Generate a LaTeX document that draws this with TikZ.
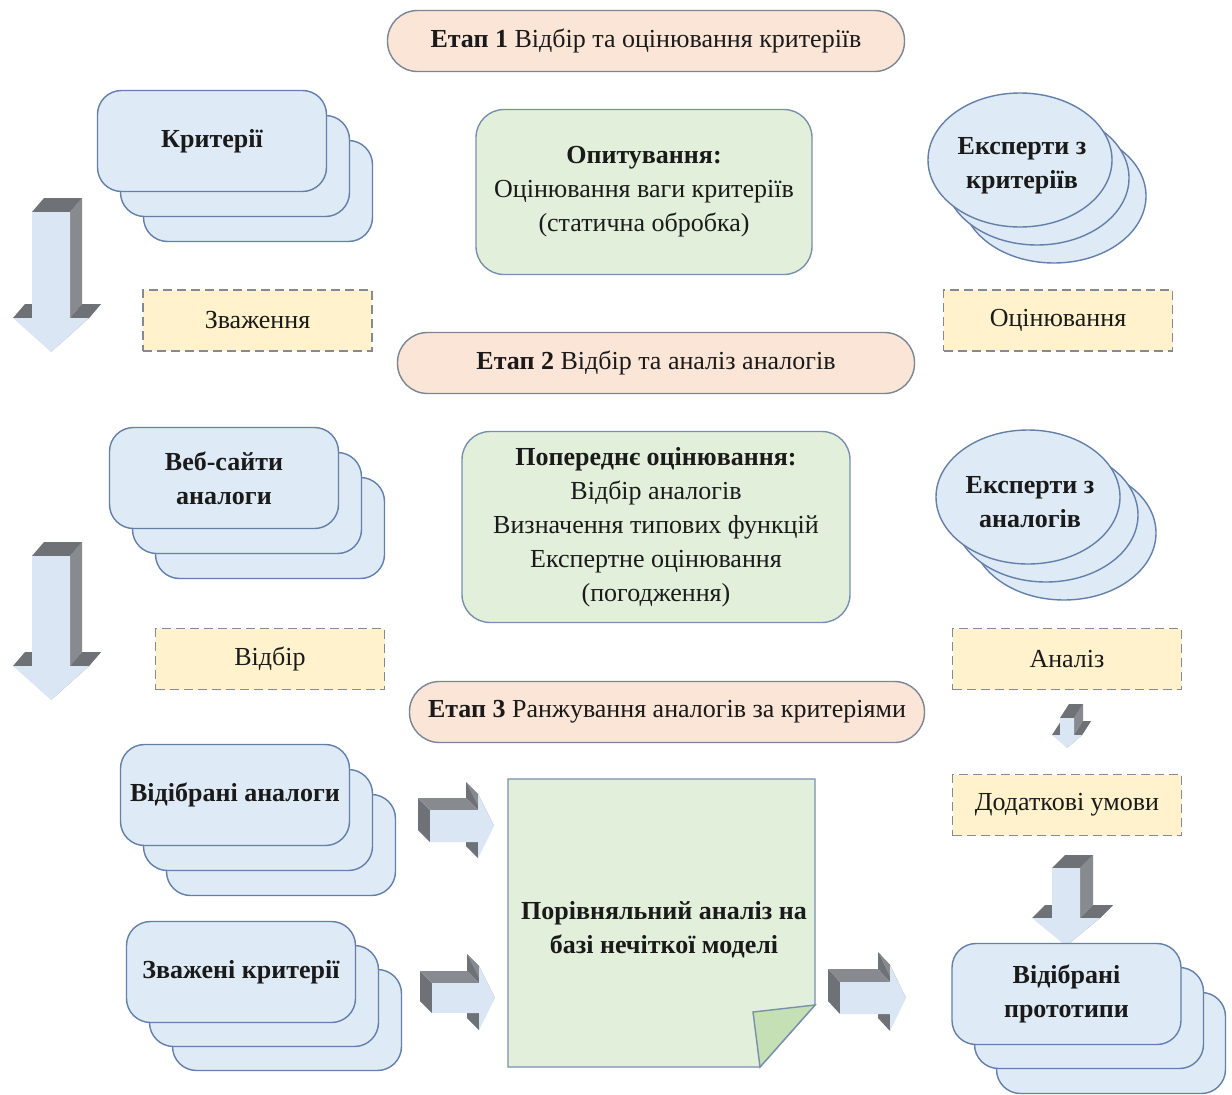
\documentclass[tikz,border=0pt]{standalone}
\usepackage{fontspec}
\setmainfont{Liberation Serif}
\usetikzlibrary{shapes.geometric}
\definecolor{peachfill}{HTML}{FBE5D6}
\definecolor{pillline}{HTML}{7A8696}
\definecolor{bluefill}{HTML}{DEEAF6}
\definecolor{blueline}{HTML}{6480AA}
\definecolor{greenfill}{HTML}{E2EFDA}
\definecolor{greenline}{HTML}{7890AE}
\definecolor{foldfill}{HTML}{C5E0B4}
\definecolor{yellowfill}{HTML}{FFF2CC}
\definecolor{dashline}{HTML}{858A90}
\definecolor{arrfront}{HTML}{DAE6F3}
\definecolor{arrdark}{HTML}{6E7276}
\definecolor{arrmid}{HTML}{878A8E}
\definecolor{inktext}{HTML}{1A1A1A}
\tikzset{
  txt/.style={font=\fontsize{26}{34}\selectfont, text=inktext, align=center},
  pill/.style={txt, draw=pillline, fill=peachfill, line width=1.4pt, rounded corners=30pt,
    minimum height=61pt, inner sep=0pt},
  stackbox/.style={txt, font=\fontsize{26}{34}\selectfont\bfseries, draw=blueline, fill=bluefill,
    line width=1.4pt, rounded corners=24pt, minimum width=229pt, minimum height=101pt, inner sep=0pt},
  expert/.style={ellipse, draw=blueline, fill=bluefill,
    line width=1.4pt, minimum width=184pt, minimum height=134pt, inner sep=0pt},
  experttext/.style={txt, font=\fontsize{26}{34}\selectfont\bfseries, inner sep=0pt},
  greenbox/.style={txt, draw=greenline, fill=greenfill, line width=1.4pt, rounded corners=28pt, inner sep=0pt},
  dashbox/.style={txt, draw=dashline, fill=yellowfill, line width=1.3pt, dash pattern=on 9pt off 5pt,
    minimum width=229pt, minimum height=61pt, inner sep=0pt},
  pics/downarrow/.style args={#1/#2/#3/#4/#5/#6}{code={
    \fill[arrmid] (#1,0) -- (#1,#2) -- ({#1+#5},{#2+#6}) -- ({#1+#5},{#6}) -- cycle;
    \fill[arrmid] (#3,#2) -- (0,{#2+#4}) -- ({#5},{#2+#4+#6}) -- ({#3+#5},{#2+#6}) -- cycle;
    \fill[arrdark] (-#1,0) -- (#1,0) -- ({#1+#5},{#6}) -- ({-#1+#5},{#6}) -- cycle;
    \fill[arrdark] (#1,#2) -- (#3,#2) -- ({#3+#5},{#2+#6}) -- ({#1+#5},{#2+#6}) -- cycle;
    \fill[arrdark] (-#3,#2) -- (-#1,#2) -- ({-#1+#5},{#2+#6}) -- ({-#3+#5},{#2+#6}) -- cycle;
    \fill[arrfront] (-#1,0) -- (#1,0) -- (#1,#2) -- (#3,#2) -- (0,{#2+#4}) -- (-#3,#2) -- (-#1,#2) -- cycle;
  }},
  pics/rightarrow/.style args={#1/#2/#3/#4/#5/#6}{code={
    \fill[arrdark] (0,-#1) -- (0,#1) -- ({#5},{#1+#6}) -- ({#5},{-#1+#6}) -- cycle;
    \fill[arrdark] (#2,#1) -- (#2,#3) -- ({#2+#5},{#3+#6}) -- ({#2+#5},{#1+#6}) -- cycle;
    \fill[arrdark] (#2,-#1) -- (#2,-#3) -- ({#2+#5},{-#3+#6}) -- ({#2+#5},{-#1+#6}) -- cycle;
    \fill[arrmid] (0,-#1) -- (#2,-#1) -- ({#2+#5},{-#1+#6}) -- ({#5},{-#1+#6}) -- cycle;
    \fill[arrmid] (#2,-#3) -- ({#2+#4},0) -- ({#2+#4+#5},{#6}) -- ({#2+#5},{-#3+#6}) -- cycle;
    \fill[arrfront] (0,-#1) -- (#2,-#1) -- (#2,-#3) -- ({#2+#4},0) -- (#2,#3) -- (#2,#1) -- (0,#1) -- cycle;
  }}
}
\begin{document}
\begin{tikzpicture}[x=1pt,y=-1pt]
\path[use as bounding box, fill=white] (0,0) rectangle (1232,1095);

% ---------- Stage 1 ----------
\node[pill, minimum width=517pt] (stage1) at (646,41) {\textbf{Етап 1} Відбір та оцінювання критеріїв};

\node[stackbox] (crit3) at (258,191) {};
\node[stackbox] (crit2) at (235,166) {};
\node[stackbox] (crit1) at (212,141) {Критерії};

\node[greenbox, minimum width=336pt, minimum height=165pt] (survey) at (644,192)
  {\textbf{Опитування:}\\Оцінювання ваги критеріїв\\(статична обробка)};

\node[expert] (expc3) at (1054,196) {};
\node[expert] (expc2) at (1037,178) {};
\node[expert] (expc1) at (1020,160) {};
\node[experttext] (expc1text) at (1022,166) {Експерти з\\критеріїв};

\pic at (51,212) {downarrow=19/106/38/34/12/-14};

\node[dashbox] (weigh) at (257.5,320.5) {Зваження};
\node[dashbox] (evalc) at (1058,320.5) {Оцінювання};

% ---------- Stage 2 ----------
\node[pill, minimum width=517pt] (stage2) at (656,363) {\textbf{Етап 2} Відбір та аналіз аналогів};

\node[stackbox] (web3) at (270,528) {};
\node[stackbox] (web2) at (247,503) {};
\node[stackbox] (web1) at (224,478) {Веб-сайти\\аналоги};

\node[greenbox, minimum width=388pt, minimum height=191pt] (prelim) at (656,527)
  {\textbf{Попереднє оцінювання:}\\Відбір аналогів\\Визначення типових функцій\\Експертне оцінювання\\(погодження)};

\node[expert] (expa3) at (1064,533) {};
\node[expert] (expa2) at (1046,515) {};
\node[expert] (expa1) at (1028,497) {};
\node[experttext] (expa1text) at (1030,502) {Експерти з\\аналогів};

\pic at (51,556) {downarrow=19/110/38/34/12/-14};

\node[dashbox] (select) at (270,659) {Відбір};
\node[dashbox] (analysis) at (1067,659) {Аналіз};

% ---------- Stage 3 ----------
\node[pill, minimum width=515pt] (stage3) at (667,712) {\textbf{Етап 3} Ранжування аналогів за критеріями};

\pic at (1067,718) {downarrow=7/17/15/13/9/-14};

\node[dashbox] (extra) at (1067,805) {Додаткові умови};

\node[stackbox] (sel3) at (281,845) {};
\node[stackbox] (sel2) at (258,820) {};
\node[stackbox] (sel1) at (235,795) {Відібрані аналоги};

\node[stackbox] (wcrit3) at (287,1020) {};
\node[stackbox] (wcrit2) at (264,996) {};
\node[stackbox] (wcrit1) at (241,972) {Зважені критерії};

\filldraw[fill=greenfill, draw=greenline, line width=1.4pt]
  (508,779) -- (815,779) -- (815,1005) -- (760,1067) -- (508,1067) -- cycle;
\filldraw[fill=foldfill, draw=greenline, line width=1.4pt]
  (753,1012) -- (815,1005) -- (760,1067) -- cycle;
\node[txt, font=\fontsize{26}{34}\selectfont\bfseries] (compare) at (664,930)
  {Порівняльний аналіз на\\базі нечіткої моделі};

\pic at (430,826) {rightarrow=16/48/32/16/-12/-12};
\pic at (432,998) {rightarrow=15/47/32/16/-12/-12};
\pic at (840,998) {rightarrow=16/50/33/16/-12/-13};

\pic at (1066,868) {downarrow=14/50/34/28/13/-13};

\node[stackbox] (proto3) at (1111,1043) {};
\node[stackbox] (proto2) at (1089,1018) {};
\node[stackbox] (proto1) at (1066.5,994) {Відібрані\\прототипи};
\end{tikzpicture}
\end{document}
